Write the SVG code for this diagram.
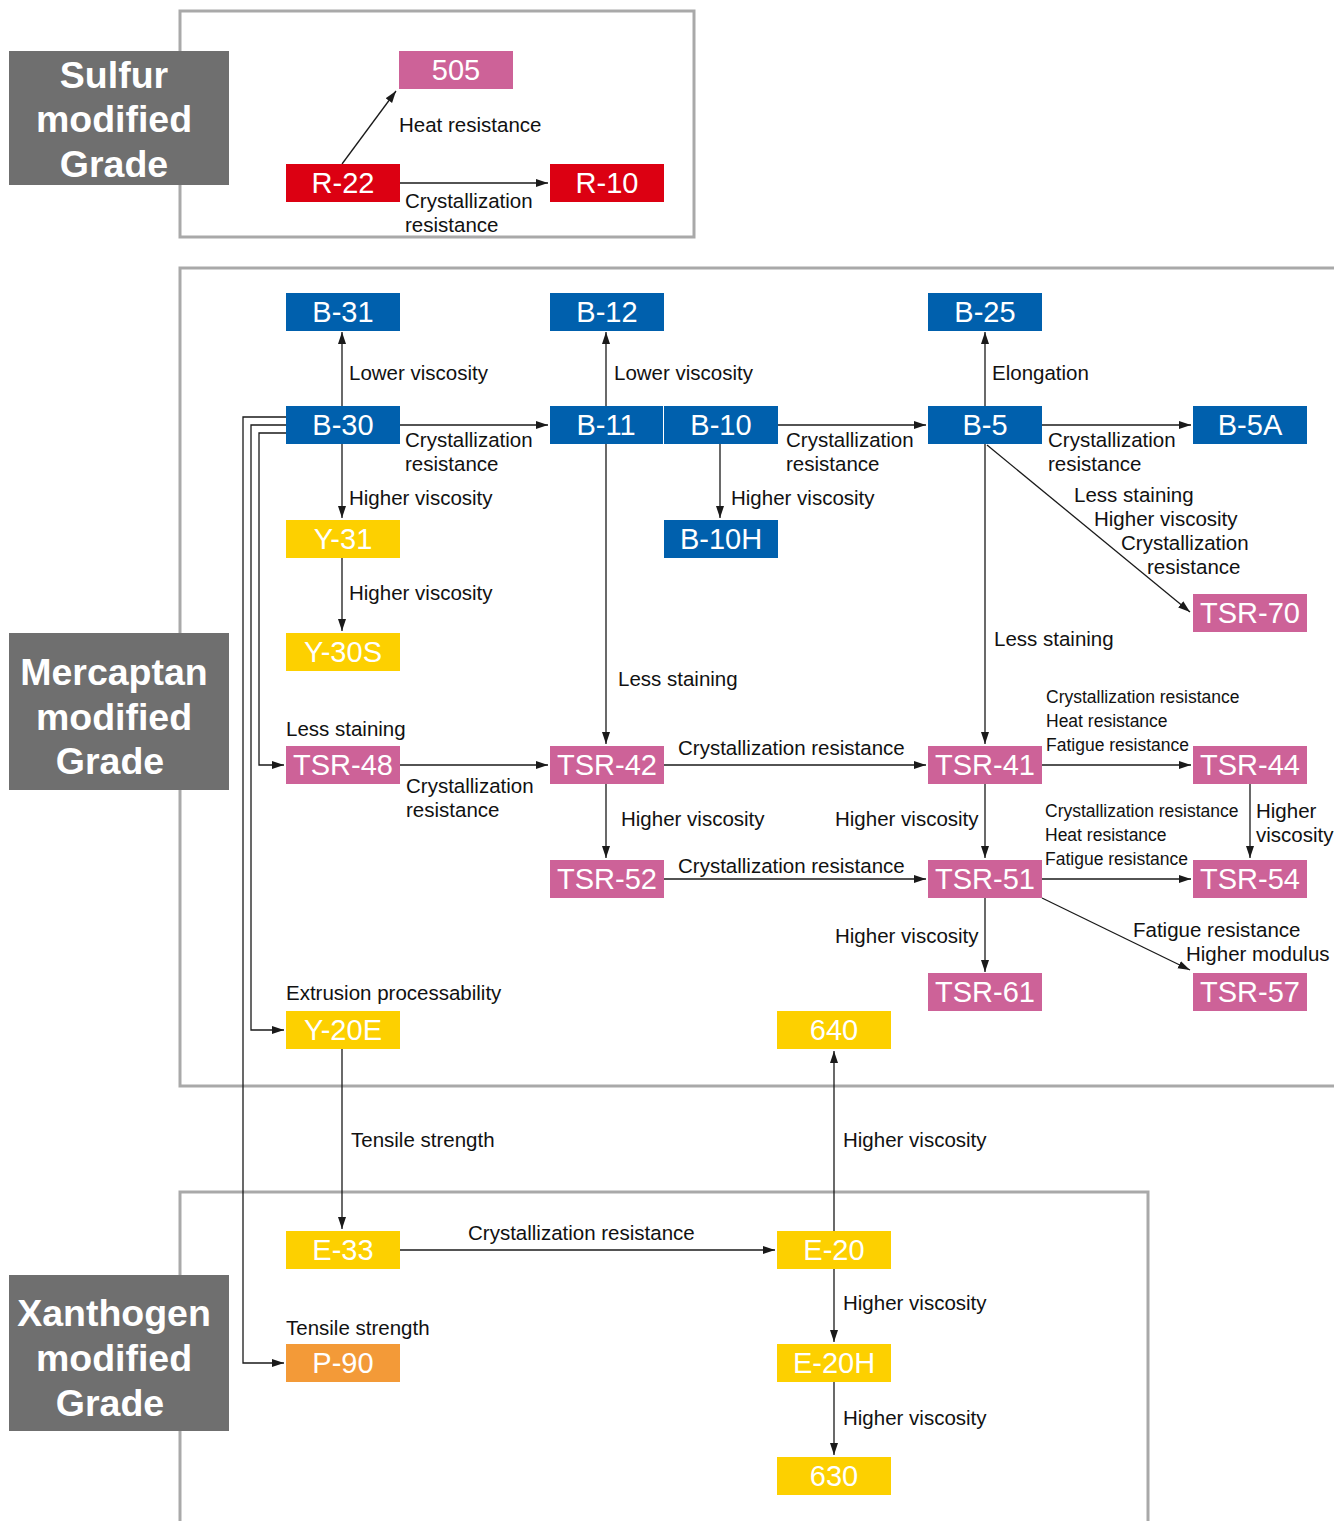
<svg xmlns="http://www.w3.org/2000/svg" width="1334" height="1521" viewBox="0 0 1334 1521">
<style>
.frame{fill:none;stroke:#A9A9A9;stroke-width:3}
.grp{fill:#6F6F6F}
.gt{font-family:"Liberation Sans",Arial,sans-serif;font-weight:bold;font-size:37.5px;fill:#fff;text-anchor:middle}
.nt{font-family:"Liberation Sans",Arial,sans-serif;font-size:29px;fill:#fff;text-anchor:middle}
.lb{font-family:"Liberation Sans",Arial,sans-serif;font-size:20.5px;fill:#111}
.sm{font-family:"Liberation Sans",Arial,sans-serif;font-size:17.5px;fill:#111}
.blue{fill:#0060AD}.red{fill:#DC0012}.pink{fill:#CD6298}.yel{fill:#FDD000}.org{fill:#F39A38}
.c{fill:none;stroke:#1a1a1a;stroke-width:1.3}
.a{marker-end:url(#ah)}
</style>
<defs>
<marker id="ah" markerUnits="userSpaceOnUse" markerWidth="14" markerHeight="10" refX="12" refY="4" orient="auto">
<path d="M0,0 L12,4 L0,8 z" fill="#1a1a1a"/>
</marker>
</defs>
<rect width="1334" height="1521" fill="#fff"/>
<rect class="frame" x="180" y="11" width="514" height="226"/>
<rect class="frame" x="180" y="268" width="1160" height="818"/>
<rect class="frame" x="180" y="1192" width="968" height="340"/>
<g id="grp-sulfur"><rect class="grp" x="9" y="51" width="220" height="134"/><text class="gt" x="114" y="88">Sulfur</text><text class="gt" x="114" y="132">modified</text><text class="gt" x="114" y="177">Grade</text></g>
<g id="grp-mercaptan"><rect class="grp" x="9" y="633" width="220" height="157"/><text class="gt" x="114" y="685">Mercaptan</text><text class="gt" x="114" y="730">modified</text><text class="gt" x="110" y="774">Grade</text></g>
<g id="grp-xanthogen"><rect class="grp" x="9" y="1275" width="220" height="156"/><text class="gt" x="114" y="1326">Xanthogen</text><text class="gt" x="114" y="1371">modified</text><text class="gt" x="110" y="1416">Grade</text></g>
<g id="connectors">
<path class="c a" d="M342,164 L396,91"/>
<path class="c a" d="M400,183 L548,183"/>
<path class="c a" d="M342,406 L342,332"/>
<path class="c a" d="M606,406 L606,332"/>
<path class="c a" d="M985,406 L985,332"/>
<path class="c a" d="M400,425 L548,425"/>
<path class="c a" d="M778,425 L926,425"/>
<path class="c a" d="M1042,425 L1191,425"/>
<path class="c a" d="M342,444 L342,518"/>
<path class="c a" d="M720,444 L720,518"/>
<path class="c a" d="M987,445 L1190,612"/>
<path class="c a" d="M342,558 L342,631"/>
<path class="c a" d="M606,444 L606,744"/>
<path class="c a" d="M985,444 L985,744"/>
<path class="c a" d="M286,417 L243,417 L243,1363 L284,1363"/>
<path class="c a" d="M286,425 L251,425 L251,1030 L284,1030"/>
<path class="c a" d="M286,433 L259,433 L259,765 L284,765"/>
<path class="c a" d="M400,765 L548,765"/>
<path class="c a" d="M664,765 L926,765"/>
<path class="c a" d="M1042,765 L1191,765"/>
<path class="c a" d="M606,784 L606,858"/>
<path class="c a" d="M985,784 L985,858"/>
<path class="c a" d="M1250,784 L1250,858"/>
<path class="c a" d="M664,879 L926,879"/>
<path class="c a" d="M1042,879 L1191,879"/>
<path class="c a" d="M985,898 L985,972"/>
<path class="c a" d="M1042,898 L1190,970"/>
<path class="c a" d="M342,1049 L342,1229"/>
<path class="c a" d="M400,1250 L775,1250"/>
<path class="c a" d="M834,1231 L834,1051"/>
<path class="c a" d="M834,1269 L834,1342"/>
<path class="c a" d="M834,1382 L834,1455"/>
</g>
<g id="labels">
<text class="lb" x="399" y="132">Heat resistance</text>
<text class="lb" x="405" y="208">Crystallization</text><text class="lb" x="405" y="232">resistance</text>
<text class="lb" x="349" y="380">Lower viscosity</text>
<text class="lb" x="614" y="380">Lower viscosity</text>
<text class="lb" x="992" y="380">Elongation</text>
<text class="lb" x="405" y="447">Crystallization</text><text class="lb" x="405" y="471">resistance</text>
<text class="lb" x="786" y="447">Crystallization</text><text class="lb" x="786" y="471">resistance</text>
<text class="lb" x="1048" y="447">Crystallization</text><text class="lb" x="1048" y="471">resistance</text>
<text class="lb" x="349" y="505">Higher viscosity</text>
<text class="lb" x="731" y="505">Higher viscosity</text>
<text class="lb" x="1074" y="502">Less staining</text>
<text class="lb" x="1094" y="526">Higher viscosity</text>
<text class="lb" x="1121" y="550">Crystallization</text>
<text class="lb" x="1147" y="574">resistance</text>
<text class="lb" x="349" y="600">Higher viscosity</text>
<text class="lb" x="994" y="646">Less staining</text>
<text class="lb" x="618" y="686">Less staining</text>
<text class="sm" x="1046" y="703">Crystallization resistance</text>
<text class="sm" x="1046" y="727">Heat resistance</text>
<text class="sm" x="1046" y="751">Fatigue resistance</text>
<text class="lb" x="286" y="736">Less staining</text>
<text class="lb" x="678" y="755">Crystallization resistance</text>
<text class="lb" x="406" y="793">Crystallization</text><text class="lb" x="406" y="817">resistance</text>
<text class="lb" x="621" y="826">Higher viscosity</text>
<text class="lb" x="835" y="826">Higher viscosity</text>
<text class="sm" x="1045" y="817">Crystallization resistance</text>
<text class="sm" x="1045" y="841">Heat resistance</text>
<text class="sm" x="1045" y="865">Fatigue resistance</text>
<text class="lb" x="1256" y="818">Higher</text><text class="lb" x="1256" y="842">viscosity</text>
<text class="lb" x="678" y="873">Crystallization resistance</text>
<text class="lb" x="835" y="943">Higher viscosity</text>
<text class="lb" x="1133" y="937">Fatigue resistance</text>
<text class="lb" x="1186" y="961">Higher modulus</text>
<text class="lb" x="286" y="1000">Extrusion processability</text>
<text class="lb" x="351" y="1147">Tensile strength</text>
<text class="lb" x="843" y="1147">Higher viscosity</text>
<text class="lb" x="468" y="1240">Crystallization resistance</text>
<text class="lb" x="286" y="1335">Tensile strength</text>
<text class="lb" x="843" y="1310">Higher viscosity</text>
<text class="lb" x="843" y="1425">Higher viscosity</text>
</g>
<g id="n-505"><rect class="pink" x="399" y="51" width="114" height="38"/><text class="nt" x="456" y="80">505</text></g>
<g id="n-R-22"><rect class="red" x="286" y="164" width="114" height="38"/><text class="nt" x="343" y="193">R-22</text></g>
<g id="n-R-10"><rect class="red" x="550" y="164" width="114" height="38"/><text class="nt" x="607" y="193">R-10</text></g>
<g id="n-B-31"><rect class="blue" x="286" y="293" width="114" height="38"/><text class="nt" x="343" y="322">B-31</text></g>
<g id="n-B-12"><rect class="blue" x="550" y="293" width="114" height="38"/><text class="nt" x="607" y="322">B-12</text></g>
<g id="n-B-25"><rect class="blue" x="928" y="293" width="114" height="38"/><text class="nt" x="985" y="322">B-25</text></g>
<g id="n-B-30"><rect class="blue" x="286" y="406" width="114" height="38"/><text class="nt" x="343" y="435">B-30</text></g>
<g id="n-B-11"><rect class="blue" x="550" y="406" width="113" height="38"/><text class="nt" x="606" y="435">B-11</text></g>
<g id="n-B-10"><rect class="blue" x="664" y="406" width="114" height="38"/><text class="nt" x="721" y="435">B-10</text></g>
<g id="n-B-5"><rect class="blue" x="928" y="406" width="114" height="38"/><text class="nt" x="985" y="435">B-5</text></g>
<g id="n-B-5A"><rect class="blue" x="1193" y="406" width="114" height="38"/><text class="nt" x="1250" y="435">B-5A</text></g>
<g id="n-Y-31"><rect class="yel" x="286" y="520" width="114" height="38"/><text class="nt" x="343" y="549">Y-31</text></g>
<g id="n-B-10H"><rect class="blue" x="664" y="520" width="114" height="38"/><text class="nt" x="721" y="549">B-10H</text></g>
<g id="n-TSR-70"><rect class="pink" x="1193" y="594" width="114" height="38"/><text class="nt" x="1250" y="623">TSR-70</text></g>
<g id="n-Y-30S"><rect class="yel" x="286" y="633" width="114" height="38"/><text class="nt" x="343" y="662">Y-30S</text></g>
<g id="n-TSR-48"><rect class="pink" x="286" y="746" width="114" height="38"/><text class="nt" x="343" y="775">TSR-48</text></g>
<g id="n-TSR-42"><rect class="pink" x="550" y="746" width="114" height="38"/><text class="nt" x="607" y="775">TSR-42</text></g>
<g id="n-TSR-41"><rect class="pink" x="928" y="746" width="114" height="38"/><text class="nt" x="985" y="775">TSR-41</text></g>
<g id="n-TSR-44"><rect class="pink" x="1193" y="746" width="114" height="38"/><text class="nt" x="1250" y="775">TSR-44</text></g>
<g id="n-TSR-52"><rect class="pink" x="550" y="860" width="114" height="38"/><text class="nt" x="607" y="889">TSR-52</text></g>
<g id="n-TSR-51"><rect class="pink" x="928" y="860" width="114" height="38"/><text class="nt" x="985" y="889">TSR-51</text></g>
<g id="n-TSR-54"><rect class="pink" x="1193" y="860" width="114" height="38"/><text class="nt" x="1250" y="889">TSR-54</text></g>
<g id="n-TSR-61"><rect class="pink" x="928" y="973" width="114" height="38"/><text class="nt" x="985" y="1002">TSR-61</text></g>
<g id="n-TSR-57"><rect class="pink" x="1193" y="973" width="114" height="38"/><text class="nt" x="1250" y="1002">TSR-57</text></g>
<g id="n-Y-20E"><rect class="yel" x="286" y="1011" width="114" height="38"/><text class="nt" x="343" y="1040">Y-20E</text></g>
<g id="n-640"><rect class="yel" x="777" y="1011" width="114" height="38"/><text class="nt" x="834" y="1040">640</text></g>
<g id="n-E-33"><rect class="yel" x="286" y="1231" width="114" height="38"/><text class="nt" x="343" y="1260">E-33</text></g>
<g id="n-E-20"><rect class="yel" x="777" y="1231" width="114" height="38"/><text class="nt" x="834" y="1260">E-20</text></g>
<g id="n-P-90"><rect class="org" x="286" y="1344" width="114" height="38"/><text class="nt" x="343" y="1373">P-90</text></g>
<g id="n-E-20H"><rect class="yel" x="777" y="1344" width="114" height="38"/><text class="nt" x="834" y="1373">E-20H</text></g>
<g id="n-630"><rect class="yel" x="777" y="1457" width="114" height="38"/><text class="nt" x="834" y="1486">630</text></g>
</svg>
